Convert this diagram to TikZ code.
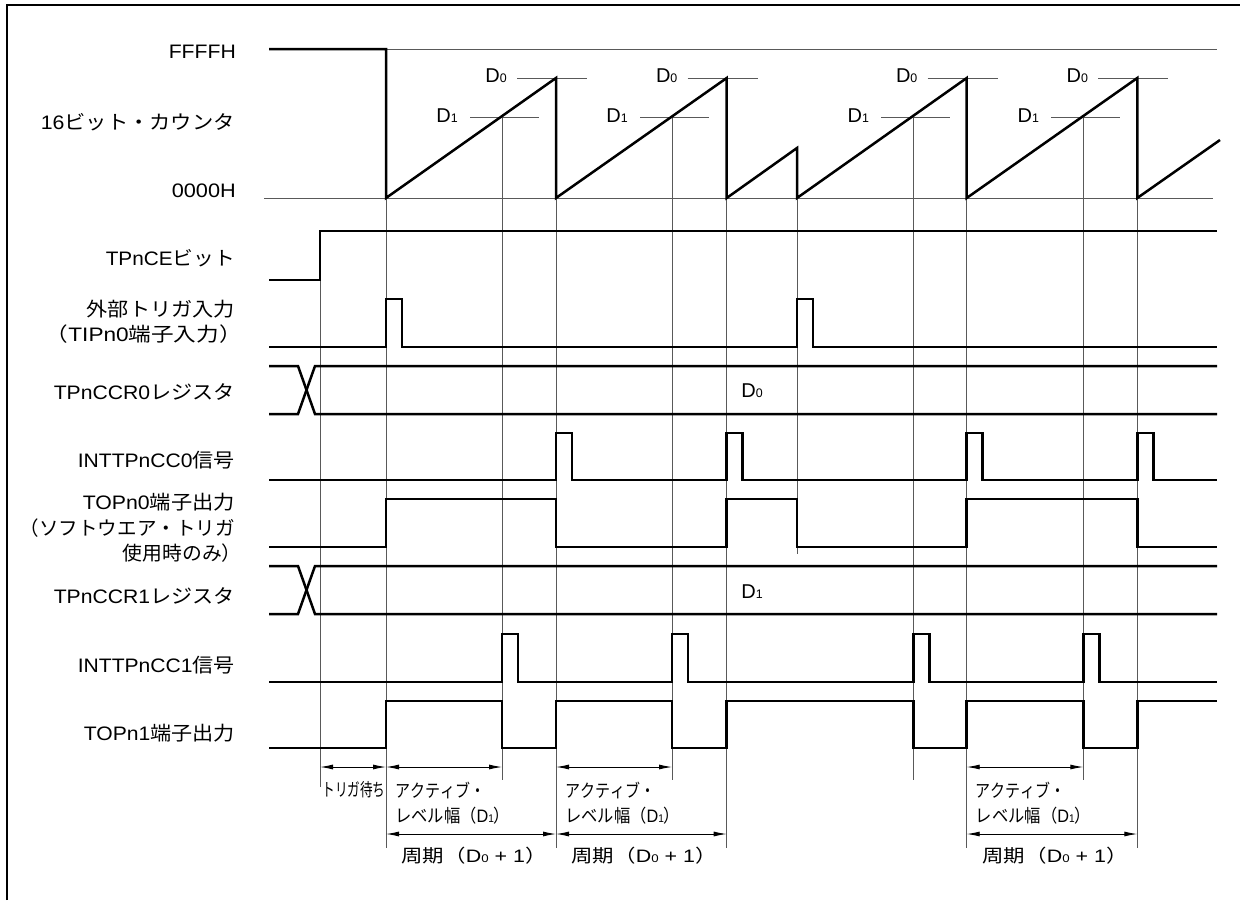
\documentclass[tikz,border=0pt]{standalone}
\usepackage{graphicx}
\usepackage{fontspec}
\setmainfont{Liberation Sans}
\newfontfamily\jp[Kerning=Off]{Noto Sans CJK JP}
\usetikzlibrary{arrows.meta}
\newcommand\Dn[1]{D\scalebox{0.62}{#1}}
\newcommand\fitw[2]{\resizebox{#1pt}{\height}{#2}}
\def\XS{269}\def\XA{320}\def\XB{386}\def\XC{502}\def\XD{556}\def\XE{672}
\def\XF{726.7}\def\XG{797}\def\XH{913.3}\def\XI{966.7}\def\XJ{1083.3}
\def\XK{1137.3}\def\XR{1217}
\begin{document}
\begin{tikzpicture}[x=1pt,y=-1pt,
  every node/.style={inner sep=0pt,font=\fontsize{19.5}{23}\selectfont},
  lab/.style={anchor=base east},
  sig/.style={line width=2.5pt,line join=miter},
  guide/.style={line width=0.9pt,black!65},
  dim/.style={line width=0.9pt,{Latex[length=13pt,width=5pt]}-{Latex[length=13pt,width=5pt]}},
  small/.style={font=\fontsize{18}{21}\selectfont},
  dlab/.style={anchor=base,font=\fontsize{20}{24}\selectfont}]
\useasboundingbox (0,0) rectangle (1240,900);
% frame
\draw[line width=2pt] (7,900) -- (7,5) -- (1240,5);
% guide lines
\draw[guide] (\XB,49) -- (\XR,49);
\draw[guide] (264,198) -- (1213,198);
\foreach \p in {\XD,\XF,\XI,\XK}{\draw[guide] (\p-39,78) -- (\p+31,78);}
\foreach \p in {\XC,\XE,\XH,\XJ}{\draw[guide] (\p-32,117) -- (\p+37,117);}
\draw[guide] (\XA,231) -- (\XA,787);
\foreach \p in {\XB,\XD,\XF,\XI,\XK}{\draw[guide] (\p,198) -- (\p,848);}
\foreach \p in {\XC,\XE,\XH,\XJ}{\draw[guide] (\p,117) -- (\p,780);}
\draw[guide] (\XG,198) -- (\XG,554);
% counter
\draw[sig] (\XS,49) -- (\XB,49) -- (\XB,198) -- (\XD,78) -- (\XD,198) -- (\XF,78) -- (\XF,198)
  -- (\XG,148) -- (\XG,198) -- (\XI,78) -- (\XI,198) -- (\XK,78) -- (\XK,198) -- (1220,140);
% TPnCE
\draw[sig] (\XS,280) -- (\XA,280) -- (\XA,231) -- (\XR,231);
% trigger input
\draw[sig] (\XS,347) -- (\XB,347) -- (\XB,299) -- ++(16,0) -- ++(0,48) -- (\XG,347) -- (\XG,299)
  -- ++(16,0) -- ++(0,48) -- (\XR,347);
% TPnCCR0
\draw[sig] (\XS,366) -- (298,366) -- (315,414) -- (\XR,414);
\draw[sig] (\XS,414) -- (298,414) -- (315,366) -- (\XR,366);
% INTTPnCC0
\draw[sig] (\XS,480) \foreach \p in {\XD,\XF,\XI,\XK}{ -- (\p,480) -- (\p,433) -- ++(16,0) -- ++(0,47)} -- (\XR,480);
% TOPn0
\draw[sig] (\XS,547) -- (\XB,547) -- (\XB,499) -- (\XD,499) -- (\XD,547) -- (\XF,547) -- (\XF,499)
  -- (\XG,499) -- (\XG,547) -- (\XI,547) -- (\XI,499) -- (\XK,499) -- (\XK,547) -- (\XR,547);
% TPnCCR1
\draw[sig] (\XS,566) -- (298,566) -- (315,614) -- (\XR,614);
\draw[sig] (\XS,614) -- (298,614) -- (315,566) -- (\XR,566);
% INTTPnCC1
\draw[sig] (\XS,682) \foreach \p in {\XC,\XE,\XH,\XJ}{ -- (\p,682) -- (\p,634) -- ++(16,0) -- ++(0,48)} -- (\XR,682);
% TOPn1
\draw[sig] (\XS,748) -- (\XB,748) -- (\XB,701) -- (\XC,701) -- (\XC,748) -- (\XD,748) -- (\XD,701)
  -- (\XE,701) -- (\XE,748) -- (\XF,748) -- (\XF,701) -- (\XH,701) -- (\XH,748) -- (\XI,748)
  -- (\XI,701) -- (\XJ,701) -- (\XJ,748) -- (\XK,748) -- (\XK,701) -- (\XR,701);
% left labels
\node[lab] (lffff) at (236,58) {\fitw{67}{FFFFH}};
\node[lab] (lcnt) at (235,129) {\fitw{194}{16{\jp ビット・カウンタ}}};
\node[lab] (l0000) at (236,197) {\fitw{64}{0000H}};
\node[lab] (lce) at (235,265) {\fitw{129}{TPnCE{\jp ビット}}};
\node[lab] (ltrg) at (235,316) {\fitw{148}{\jp 外部トリガ入力}};
\node[lab] (ltip) at (242,341) {\fitw{196}{{\jp （}TIPn0{\jp 端子入力）}}};
\node[lab] (lccr0) at (235,399) {\fitw{181}{TPnCCR0{\jp レジスタ}}};
\node[lab] (lint0) at (235,467) {\fitw{157}{INTTPnCC0{\jp 信号}}};
\node[lab] (ltop0) at (235,509) {\fitw{152}{TOPn0{\jp 端子出力}}};
\node[lab] (lsoft) at (235,535) {\fitw{215}{\jp （ソフトウエア・トリガ}};
\node[lab] (luse) at (242,560) {\fitw{119}{\jp 使用時のみ）}};
\node[lab] (lccr1) at (235,603) {\fitw{181}{TPnCCR1{\jp レジスタ}}};
\node[lab] (lint1) at (235,672) {\fitw{157}{INTTPnCC1{\jp 信号}}};
\node[lab] (ltop1) at (235,740) {\fitw{151}{TOPn1{\jp 端子出力}}};
% counter D labels
\foreach \p/\n in {\XD/a,\XF/b,\XI/c,\XK/d}{\node[dlab] (dz\n) at (\p-60,82) {\Dn{0}};}
\foreach \p/\n in {\XC/a,\XE/b,\XH/c,\XJ/d}{\node[dlab] (do\n) at (\p-55,122) {\Dn{1}};}
\node[dlab] (rz) at (752,397) {\Dn{0}};
\node[dlab] (ro) at (752,598) {\Dn{1}};
% dimension arrows
\coordinate (wA) at (\XA,767); \coordinate (wB) at (\XB,767);
\coordinate (aB) at (\XB,767); \coordinate (aC) at (\XC,767);
\coordinate (aD) at (\XD,767); \coordinate (aE) at (\XE,767);
\coordinate (aI) at (\XI,767); \coordinate (aJ) at (\XJ,767);
\coordinate (pB) at (\XB,834); \coordinate (pD) at (\XD,834);
\coordinate (pD2) at (\XD,834); \coordinate (pF) at (\XF,834);
\coordinate (pI) at (\XI,834); \coordinate (pK) at (\XK,834);
\draw[dim] (wA) -- (wB);
\draw[dim] (aB) -- (aC);
\draw[dim] (aD) -- (aE);
\draw[dim] (aI) -- (aJ);
\draw[dim] (pB) -- (pD);
\draw[dim] (pD2) -- (pF);
\draw[dim] (pI) -- (pK);
\node[anchor=base,small] (twait) at (354,796) {\fitw{63}{\jp トリガ待ち}};
\foreach \p/\n in {\XB/a,\XD/b,\XI/c}{
  \node[anchor=base west,small] (act\n) at (\p+9,797) {\fitw{90}{\jp アクティブ・}};
  \node[anchor=base west,small] (lvl\n) at (\p+9,822) {\fitw{115}{{\jp レベル幅（}\Dn{1}{\jp ）}}};
}
\node[anchor=base,small] (pera) at (474,862) {\fitw{145}{{\jp 周期（}\Dn{0} + 1{\jp ）}}};
\node[anchor=base,small] (perb) at (644,862) {\fitw{145}{{\jp 周期（}\Dn{0} + 1{\jp ）}}};
\node[anchor=base,small] (perc) at (1055,862) {\fitw{145}{{\jp 周期（}\Dn{0} + 1{\jp ）}}};
\end{tikzpicture}
\end{document}
